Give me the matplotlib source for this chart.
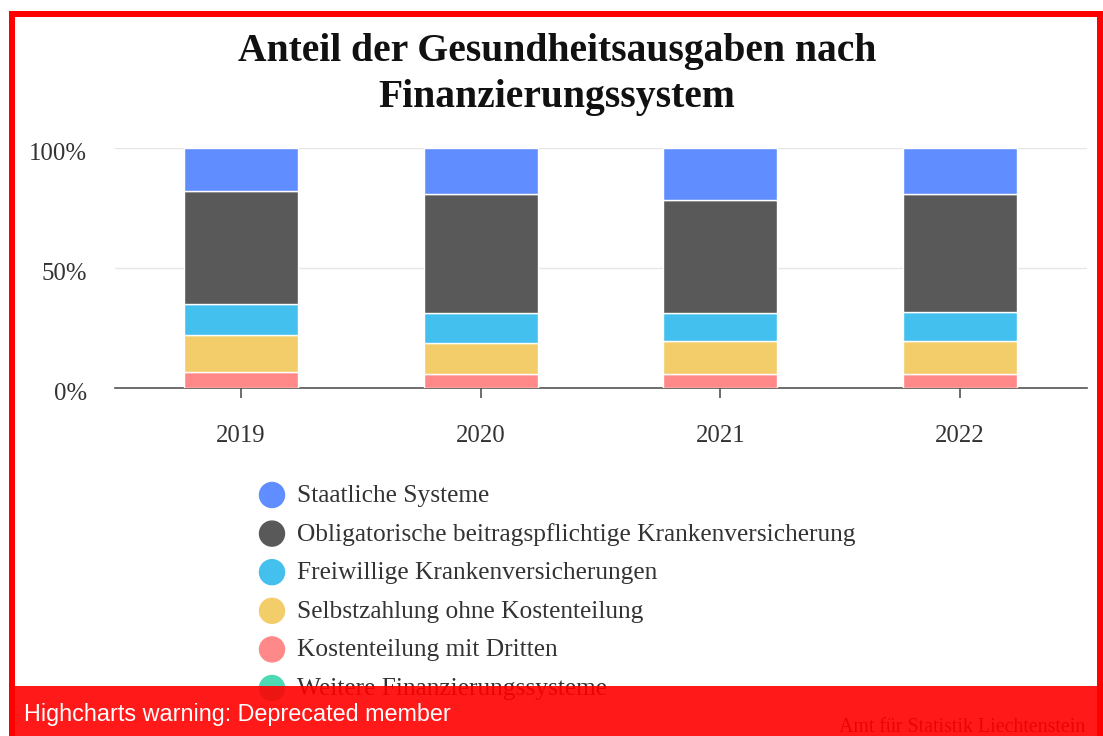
import matplotlib
matplotlib.use("Agg")
import matplotlib.pyplot as plt
from matplotlib.patches import Rectangle, Circle
from matplotlib.transforms import ScaledTranslation
import numpy as np

# Daten (Anteile in %, von oben nach unten im Stapel)
jahre = ["2019", "2020", "2021", "2022"]
serien = [
    "Staatliche Systeme",
    "Obligatorische beitragspflichtige Krankenversicherung",
    "Freiwillige Krankenversicherungen",
    "Selbstzahlung ohne Kostenteilung",
    "Kostenteilung mit Dritten",
    "Weitere Finanzierungssysteme",
]
staatlich = [17.9, 19.3, 21.7, 19.3]
obligatorisch = [47.2, 49.6, 47.2, 48.9]
freiwillig = [13.1, 12.2, 11.5, 12.2]
selbstzahlung = [15.3, 13.0, 13.8, 13.8]
kostenteilung = [6.5, 5.8, 5.8, 5.8]
weitere = [0.1, 0.1, 0.1, 0.1]
farben = ["#608DFF", "#595959", "#43C0EE", "#F3CD69", "#FF8888", "#4ED8B4"]

werte = np.array([staatlich, obligatorisch, freiwillig, selbstzahlung, kostenteilung, weitere])
prozent = werte / werte.sum(axis=0) * 100  # Prozent-Stapelung

W, H = 1103, 736
fig = plt.figure(figsize=(W / 100, H / 100), dpi=100)
fig.patch.set_facecolor("white")

serif = "Liberation Serif"

# Diagrammbereich
ax = fig.add_axes([115 / W, (H - 388) / H, (1087 - 115) / W, 240 / H])
x = np.arange(len(jahre))
unten = np.zeros(len(jahre))
# letzte Serie liegt unten
for i in range(len(serien) - 1, -1, -1):
    ax.bar(x, prozent[i], 0.475, bottom=unten, color=farben[i],
           edgecolor="white", linewidth=1, zorder=3)
    unten += prozent[i]

ax.set_xlim(-0.525, 3.529)
ax.set_ylim(0, 100)
ax.set_yticks([0, 50, 100])
ax.set_yticklabels(["0%", "50%", "100%"])
ax.set_xticks(x)
ax.set_xticklabels(jahre)
ax.grid(axis="y", color="#e6e6e6", linewidth=1, zorder=0)
for s in ["top", "right", "left"]:
    ax.spines[s].set_visible(False)
ax.spines["bottom"].set_color("#555555")
ax.spines["bottom"].set_linewidth(1.2)
ax.tick_params(axis="y", length=0, pad=20, labelsize=17.8, labelcolor="#333333")
ax.tick_params(axis="x", length=7.5, width=1.2, color="#555555", pad=19,
               labelsize=17.8, labelcolor="#333333")
verschiebung = ScaledTranslation(0, -3 / 100, fig.dpi_scale_trans)
for lab in ax.get_yticklabels():
    lab.set_fontfamily(serif)
    lab.set_transform(lab.get_transform() + verschiebung)
for lab in ax.get_xticklabels():
    lab.set_fontfamily(serif)

# Overlay in Pixelkoordinaten
ov = fig.add_axes([0, 0, 1, 1], zorder=5)
ov.set_xlim(0, W)
ov.set_ylim(H, 0)
ov.axis("off")
ov.patch.set_alpha(0)

# Titel
ov.text(557, 52, "Anteil der Gesundheitsausgaben nach", ha="center", va="center",
        fontsize=28.5, fontweight="bold", family=serif, color="#111111")
ov.text(557, 98, "Finanzierungssystem", ha="center", va="center",
        fontsize=28.5, fontweight="bold", family=serif, color="#111111")

# Legende
for i, name in enumerate(serien):
    yy = 495 + i * 38.6
    ov.add_patch(Circle((272, yy), 12.5, color=farben[i], zorder=2))
    ov.text(297, yy + 1, name, ha="left", va="center", fontsize=18.3,
            family=serif, color="#333333", zorder=2)

# Quelle
ov.text(1085, 727, "Amt für Statistik Liechtenstein", ha="right", va="center",
        fontsize=14.3, family=serif, color="#333333", zorder=2)

# Warnbalken
ov.add_patch(Rectangle((15, 686), 1097 - 15, 60, facecolor="#FF0000", alpha=0.9,
                       linewidth=0, zorder=4))
ov.text(24, 715, "Highcharts warning: Deprecated member", ha="left", va="center",
        fontsize=16.8, family="Liberation Sans", color="white", zorder=5)

# roter Rahmen
ov.add_patch(Rectangle((9, 11), W - 9, 6, facecolor="#FF0000", linewidth=0, zorder=6))
ov.add_patch(Rectangle((9, 11), 6, H - 11, facecolor="#FF0000", linewidth=0, zorder=6))
ov.add_patch(Rectangle((1097, 11), 6, H - 11, facecolor="#FF0000", linewidth=0, zorder=6))

fig.savefig("out.png", dpi=100)
